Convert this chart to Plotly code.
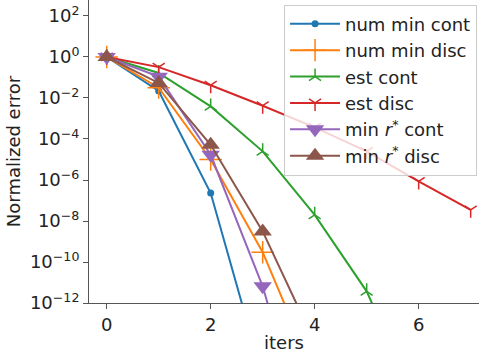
import plotly.graph_objects as go

iters = [0, 1, 2, 3, 4, 5, 6, 7]

num_min_cont = [1.0, 2.2e-2, 2.3e-7, 2.5e-16]
num_min_disc = [1.0, 3.2e-2, 1.0e-5, 3.0e-10, 3.0e-16]
est_cont = [1.0, 1.65e-1, 3.9e-3, 2.5e-5, 2.0e-8, 3.7e-12, 8.0e-18]
est_disc = [1.0, 3.2e-1, 4.2e-2, 4.2e-3, 3.7e-4, 2.5e-5, 8.5e-7, 3.5e-8]
min_r_cont = [1.0, 1.1e-1, 1.7e-5, 6.5e-12, 1.0e-20]
min_r_disc = [1.0, 5.4e-2, 5.2e-5, 3.1e-9, 1.2e-14]

series = [
    ("num min cont", num_min_cont, "#1f77b4", dict(symbol="circle", size=7)),
    ("num min disc", num_min_disc, "#ff7f0e", dict(symbol="cross-thin", size=16, line=dict(width=1.5, color="#ff7f0e"))),
    ("est cont", est_cont, "#2ca02c", dict(symbol="y-up", size=10, line=dict(width=1.5, color="#2ca02c"))),
    ("est disc", est_disc, "#d62728", dict(symbol="y-down", size=10, line=dict(width=1.5, color="#d62728"))),
    ("min <i>r</i><sup>*</sup> cont", min_r_cont, "#9467bd", dict(symbol="triangle-down", size=16)),
    ("min <i>r</i><sup>*</sup> disc", min_r_disc, "#8c564b", dict(symbol="triangle-up", size=16)),
]

fig = go.Figure()
for name, vals, color, mk in series:
    m = dict(color=color, **mk)
    fig.add_trace(go.Scatter(
        x=iters[:len(vals)], y=vals, name=name, mode="lines+markers",
        line=dict(color=color, width=2), marker=m,
    ))

ytickvals = [1e-12, 1e-10, 1e-8, 1e-6, 1e-4, 1e-2, 1e0, 1e2]
yticktext = ["10<sup>\u221212</sup>", "10<sup>\u221210</sup>", "10<sup>\u22128</sup>",
             "10<sup>\u22126</sup>", "10<sup>\u22124</sup>", "10<sup>\u22122</sup>",
             "10<sup>0</sup>", "10<sup>2</sup>"]

font = "DejaVu Sans"
fig.update_layout(
    width=479, height=353,
    margin=dict(l=89, r=0, t=0, b=50),
    plot_bgcolor="white", paper_bgcolor="white",
    font=dict(family=font, size=18, color="#222"),
    showlegend=True,
    legend=dict(
        x=0.995, y=0.985, xanchor="right", yanchor="top",
        bgcolor="rgba(255,255,255,0.8)", bordercolor="#cccccc", borderwidth=1,
        font=dict(family=font, size=18, color="#222"),
        itemsizing="trace", tracegroupgap=4, itemwidth=50,
    ),
    xaxis=dict(
        range=[-0.34, 7.16], tickvals=[0, 2, 4, 6], ticks="outside", ticklen=5,
        tickcolor="#555", showline=True, linecolor="#555", linewidth=1,
        showgrid=False, zeroline=False,
        title=dict(text="iters", font=dict(size=18), standoff=4),
    ),
    yaxis=dict(
        type="log", range=[-12, 2.78], tickvals=ytickvals, ticktext=yticktext,
        ticks="outside", ticklen=5, tickcolor="#555", showline=True,
        linecolor="#555", linewidth=1, showgrid=False, zeroline=False,
        title=dict(text="Normalized error", font=dict(size=18), standoff=4),
    ),
)

fig.write_html("out.html")
